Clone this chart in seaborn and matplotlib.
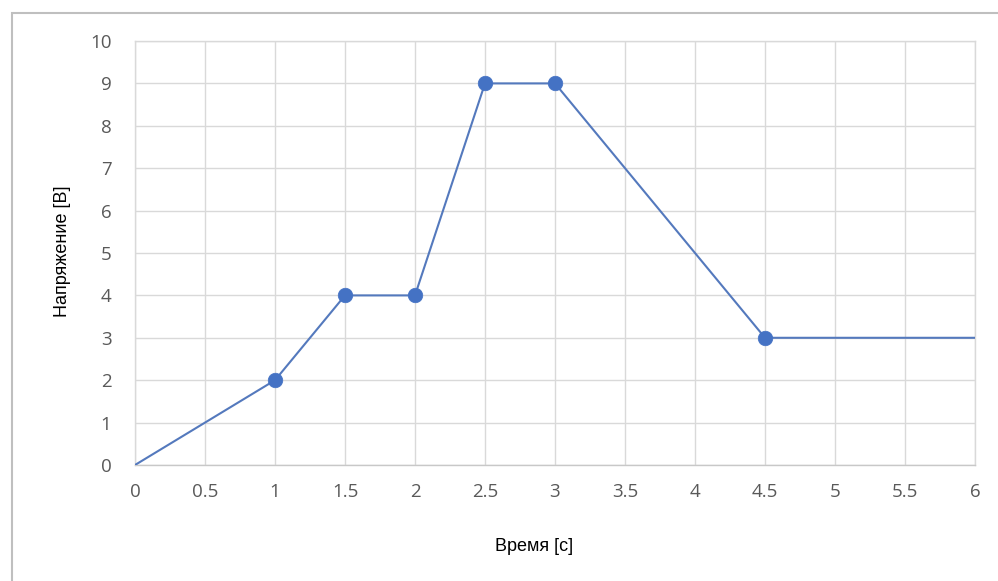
import matplotlib
matplotlib.use("Agg")
import matplotlib.pyplot as plt
import seaborn as sns
import pandas as pd
from matplotlib.patches import Rectangle

# Data
time_s = [0, 1, 1.5, 2, 2.5, 3, 4.5, 6]
voltage_v = [0, 2, 4, 4, 9, 9, 3, 3]
has_marker = [False, True, True, True, True, True, True, False]

x_ticks = [0, 0.5, 1, 1.5, 2, 2.5, 3, 3.5, 4, 4.5, 5, 5.5, 6]
x_tick_labels = ["0", "0.5", "1", "1.5", "2", "2.5", "3", "3.5", "4", "4.5", "5", "5.5", "6"]
y_ticks = list(range(0, 11))

df = pd.DataFrame({"t": time_s, "u": voltage_v, "m": has_marker})

sns.set_style("white")
plt.rcParams["font.family"] = ["Open Sans", "DejaVu Sans"]

fig = plt.figure(figsize=(9.98, 5.81), dpi=100)
ax = fig.add_axes([135 / 998, 1 - 465 / 581, 840 / 998, 424 / 581])

# Outer chart frame (left and top edges visible)
fig.patches.append(Rectangle((12 / 998, -0.1), 1.2, 1 - 13 / 581 + 0.1,
                             transform=fig.transFigure, fill=False,
                             edgecolor="#bfbfbf", linewidth=1.5, zorder=0))

line_col = "#5479bd"
sns.lineplot(data=df, x="t", y="u", ax=ax, color=line_col, linewidth=1.5,
             sort=False, estimator=None, zorder=3)
sns.scatterplot(data=df[df["m"]], x="t", y="u", ax=ax, color="#4472c4",
                s=110, edgecolor="#4472c4", linewidth=0.5, zorder=4)

ax.set_xlim(0, 6)
ax.set_ylim(0, 10)
ax.set_xticks(x_ticks)
ax.set_xticklabels(x_tick_labels)
ax.set_yticks(y_ticks)
ax.grid(True, color="#d9d9d9", linewidth=1)
ax.set_axisbelow(True)
for s in ax.spines.values():
    s.set_color("#d9d9d9")
    s.set_linewidth(1)
ax.spines["bottom"].set_color("#c8c8c8")
ax.tick_params(axis="both", length=0, labelsize=13.5, labelcolor="#595959")
ax.tick_params(axis="x", pad=13)
ax.tick_params(axis="y", pad=17)

lbl_font = ["Liberation Sans", "DejaVu Sans"]
ax.set_xlabel("Время [с]", fontsize=13, color="#000000", family=lbl_font, va="center")
ax.set_ylabel("Напряжение [В]", fontsize=13, color="#000000", family=lbl_font, va="center")
ax.xaxis.set_label_coords(0.475, -0.193)
ax.yaxis.set_label_coords(-0.086, 0.505)

fig.savefig("out.png", dpi=100)
